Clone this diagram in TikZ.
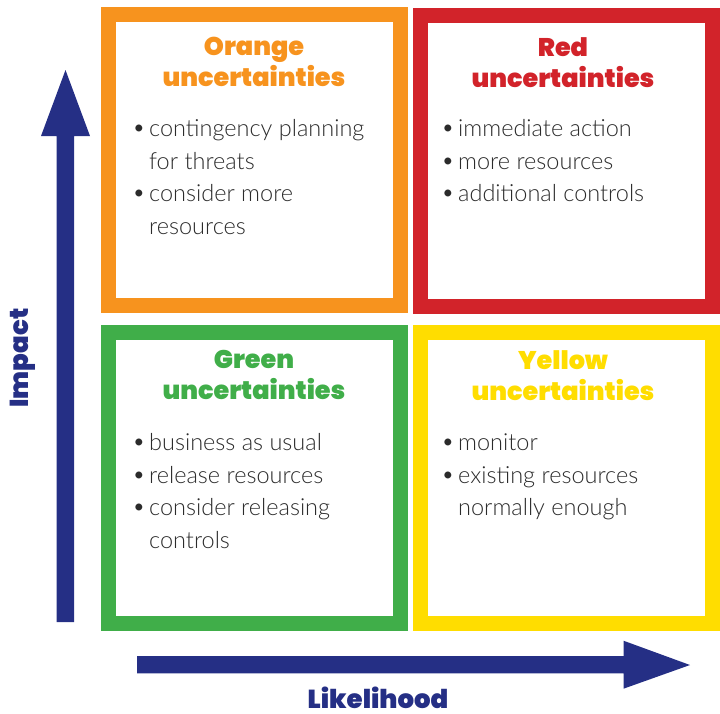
\documentclass[tikz,border=0pt]{standalone}
\usepackage{fontspec}
\IfFontExistsTF{Lato Light}{\setmainfont{Lato Light}}{\setmainfont{Lato}}
\IfFontExistsTF{Poppins Black}{\newfontfamily\headfont{Poppins Black}}{\newfontfamily\headfont{Poppins}[UprightFont=* Bold]}
\definecolor{cOrange}{HTML}{F7931E}
\definecolor{cRed}{HTML}{D2232A}
\definecolor{cGreen}{HTML}{40AE49}
\definecolor{cYellow}{HTML}{FFDD00}
\definecolor{cNavy}{HTML}{252F85}
\definecolor{cText}{HTML}{2B2B2B}
\newcommand\bul{\makebox[18pt][l]{\hspace{1pt}\raisebox{1pt}{\textbullet}}}
\tikzset{
  quad/.style={draw=#1, line width=15pt, minimum width=292pt, minimum height=291pt, inner sep=0pt, fill=white},
  head/.style={text=#1, font=\headfont\fontsize{25.5}{31}\selectfont, align=center, anchor=north, inner sep=0pt},
  body/.style={text=cText, font=\fontsize{23.5}{32.5}\selectfont, anchor=north west, inner sep=0pt},
  axislabel/.style={text=cNavy, font=\headfont\fontsize{26}{30}\selectfont, inner sep=0pt}
}
\begin{document}
\begin{tikzpicture}[x=1pt,y=-1pt]
\useasboundingbox (0,0) rectangle (720,713);
% quadrants
\node[quad=cOrange] (orange) at (254.5,160) {};
\node[quad=cRed]    (red)    at (566.5,160.5) {};
\node[quad=cGreen]  (green)  at (254.5,477.5) {};
\node[quad=cYellow] (yellow) at (566.5,477.5) {};
% headings
\node[head=cOrange] (orangeh) at (254,37) {Orange\\uncertainties};
\node[head=cRed]    (redh)    at (563,37) {Red\\uncertainties};
\node[head=cGreen]  (greenh)  at (254,350) {Green\\uncertainties};
\node[head=cYellow] (yellowh) at (563,350) {Yellow\\uncertainties};
% bullets
\node[body] (orangeb) at (131,114) {\begin{tabular}{@{}l@{}l@{}}
  \bul & contingency planning\\ & for threats\\ \bul & consider more\\ & resources\end{tabular}};
\node[body] (redb)    at (440,114) {\begin{tabular}{@{}l@{}l@{}}
  \bul & immediate action\\ \bul & more resources\\ \bul & additional controls\end{tabular}};
\node[body] (greenb)  at (131,428) {\begin{tabular}{@{}l@{}l@{}}
  \bul & business as usual\\ \bul & release resources\\ \bul & consider releasing\\ & controls\end{tabular}};
\node[body] (yellowb) at (440,428) {\begin{tabular}{@{}l@{}l@{}}
  \bul & monitor\\ \bul & existing resources\\ & normally enough\end{tabular}};
% axes
\coordinate (vtip) at (65.5,70);
\fill[cNavy] (56.7,622) -- (56.7,136) -- (41,136) -- (vtip) -- (90,136) -- (74,136) -- (74,622) -- cycle;
\coordinate (htip) at (690,665);
\fill[cNavy] (137,656) -- (623.5,656) -- (623.5,640.7) -- (htip) -- (623.5,688.7) -- (623.5,673.3) -- (137,673.3) -- cycle;
\node[axislabel, rotate=90] (impact) at (23,358) {Impact};
\node[axislabel, anchor=base] (likelihood) at (378,708.5) {Likelihood};
\end{tikzpicture}
\end{document}
